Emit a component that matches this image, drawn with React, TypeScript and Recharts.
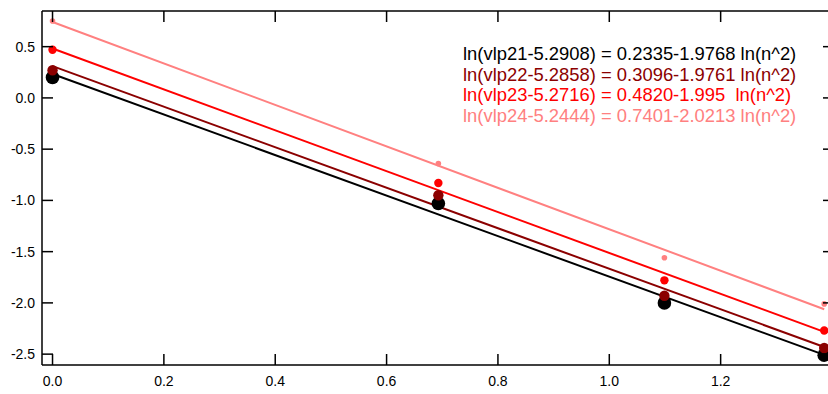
import { ComposedChart, Scatter, XAxis, YAxis } from 'recharts'

// x = ln(n), n = 1..4
const xValues = [0, 0.693, 1.099, 1.386]
const vlp21 = [0.20, -1.03, -2.00, -2.51]
const vlp22 = [0.27, -0.95, -1.93, -2.44]
const vlp23 = [0.47, -0.83, -1.78, -2.27]
const vlp24 = [0.75, -0.64, -1.56, -2.01]

// fitted lines, read at both ends (x = 0 and x = ln 4)
const fitX = [0, 1.386]
const fit21 = [0.2335, -2.507]
const fit22 = [0.3096, -2.430]
const fit23 = [0.4820, -2.283]
const fit24 = [0.7401, -2.062]

const xTicks = [0, 0.2, 0.4, 0.6, 0.8, 1.0, 1.2]
const yTicks = [0.5, 0, -0.5, -1.0, -1.5, -2.0, -2.5]

const labels = [
  'ln(vlp21-5.2908) = 0.2335-1.9768 ln(n^2)',
  'ln(vlp22-5.2858) = 0.3096-1.9761 ln(n^2)',
  'ln(vlp23-5.2716) = 0.4820-1.995\u00a0 ln(n^2)',
  'ln(vlp24-5.2444) = 0.7401-2.0213 ln(n^2)',
]

const COLORS = ['#000000', '#8b0000', '#ff0000', '#ff8080']
const RADII = [6.8, 5.2, 4.2, 2.8]
const FONT = '"Liberation Sans", Arial, sans-serif'

const toPoints = (xs: number[], ys: number[]) => xs.map((x, i) => ({ x, y: ys[i] }))
const series = [vlp21, vlp22, vlp23, vlp24].map((ys) => toPoints(xValues, ys))
const fits = [fit21, fit22, fit23, fit24].map((ys) => toPoints(fitX, ys))

const TICK_LEN = 11
const X_DOMAIN = [-0.0189, 1.4036]
const Y_DOMAIN = [-2.606, 0.848]

function BottomTick({ x, y, payload }: any) {
  return (
    <g>
      <line x1={x} y1={y} x2={x} y2={y - TICK_LEN} stroke="#000" strokeWidth={1.5} />
      <text x={x} y={y + 21} textAnchor="middle" fontSize={14} fontFamily={FONT} fill="#000">
        {Number(payload.value).toFixed(1)}
      </text>
    </g>
  )
}

function TopTick({ x, y }: any) {
  return <line x1={x} y1={y} x2={x} y2={y + TICK_LEN} stroke="#000" strokeWidth={1.5} />
}

function LeftTick({ x, y, payload }: any) {
  return (
    <g>
      <line x1={x} y1={y} x2={x + TICK_LEN} y2={y} stroke="#000" strokeWidth={1.5} />
      <text x={x - 7} y={y + 5} textAnchor="end" fontSize={14} fontFamily={FONT} fill="#000">
        {Number(payload.value).toFixed(1)}
      </text>
    </g>
  )
}

function RightTick({ x, y }: any) {
  return <line x1={x} y1={y} x2={x - TICK_LEN} y2={y} stroke="#000" strokeWidth={1.5} />
}

const Dot = (r: number, color: string) => (props: any) =>
  <circle cx={props.cx} cy={props.cy} r={r} fill={color} />

const NoDot = () => <g />

export default function App() {
  return (
    <div style={{ position: 'absolute', left: 0, top: 0, width: 828, height: 394, overflow: 'hidden', background: '#fff' }}>
      <ComposedChart
        width={836}
        height={394}
        margin={{ top: 10, right: 1, bottom: 0, left: 0 }}
      >
        <XAxis
          xAxisId="b" dataKey="x" type="number" orientation="bottom"
          domain={X_DOMAIN} ticks={xTicks} allowDataOverflow
          height={29} tickSize={0} tickMargin={0} tickLine={false}
          axisLine={{ stroke: '#000', strokeWidth: 1.5 }}
          tick={<BottomTick />} interval={0}
        />
        <XAxis
          xAxisId="t" dataKey="x" type="number" orientation="top"
          domain={X_DOMAIN} ticks={xTicks} allowDataOverflow
          height={1} tickSize={0} tickMargin={0} tickLine={false}
          axisLine={{ stroke: '#000', strokeWidth: 1.5 }}
          tick={<TopTick />} interval={0}
        />
        <YAxis
          yAxisId="l" dataKey="y" type="number" orientation="left"
          domain={Y_DOMAIN} ticks={yTicks} allowDataOverflow
          width={42} tickSize={0} tickMargin={0} tickLine={false}
          axisLine={{ stroke: '#000', strokeWidth: 1.5 }}
          tick={<LeftTick />} interval={0}
        />
        <YAxis
          yAxisId="r" dataKey="y" type="number" orientation="right"
          domain={Y_DOMAIN} ticks={yTicks} allowDataOverflow
          width={1} tickSize={0} tickMargin={0} tickLine={false}
          axisLine={{ stroke: '#000', strokeWidth: 1.5 }}
          tick={<RightTick />} interval={0}
        />
        {fits.map((d, i) => (
          <Scatter
            key={'fit' + i}
            data={d}
            xAxisId="b"
            yAxisId="l"
            line={{ stroke: COLORS[i], strokeWidth: 2 }}
            shape={NoDot}
            isAnimationActive={false}
          />
        ))}
        {series.map((d, i) => (
          <Scatter
            key={'pts' + i}
            data={d}
            xAxisId="b"
            yAxisId="l"
            shape={Dot(RADII[i], COLORS[i])}
            isAnimationActive={false}
          />
        ))}
      </ComposedChart>
      <div style={{ position: 'absolute', left: 463, top: 44, fontFamily: FONT, fontSize: 18.4, lineHeight: '20.7px', whiteSpace: 'pre' }}>
        {labels.map((t, i) => (
          <div key={i} style={{ color: COLORS[i] }}>{t}</div>
        ))}
      </div>
    </div>
  )
}
